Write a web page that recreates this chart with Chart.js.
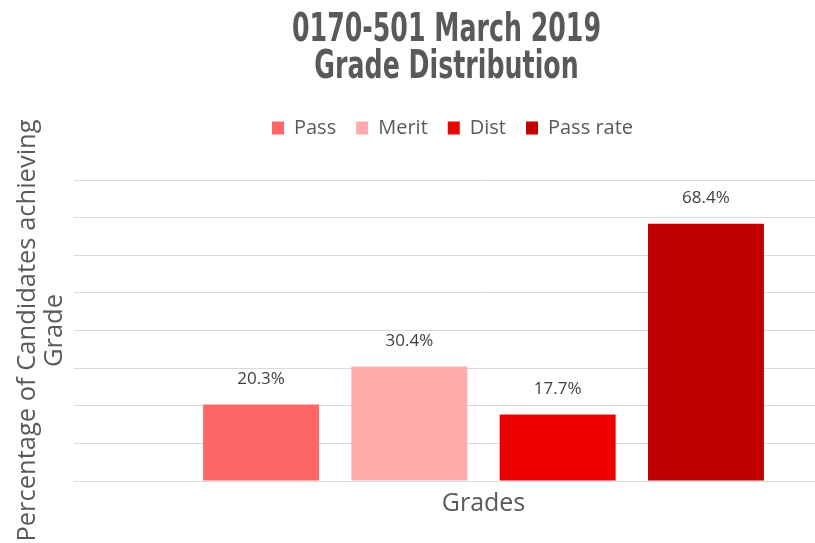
<!DOCTYPE html>
<html><head><meta charset="utf-8">
<script src="https://cdn.jsdelivr.net/npm/chart.js@4"></script>
<style>
html,body{margin:0;padding:0;background:#fff;overflow:hidden;width:815px;height:543px}
#wrap{position:absolute;left:0;top:0;width:896px;height:543px}
</style>
</head><body><div id="wrap"><canvas id="c" width="896" height="543"></canvas></div>
<script>
const categories = ['Grades'];
const seriesNames = ['Pass', 'Merit', 'Dist', 'Pass rate'];
const passValues = [20.3];
const meritValues = [30.4];
const distValues = [17.7];
const passRateValues = [68.4];
const seriesColors = ['#FF6666', '#FFABAB', '#EE0000', '#C00000'];
const yMin = 0, yMax = 80, yStep = 10;
const titleLines = ['0170-501 March 2019', 'Grade Distribution'];
const yTitleLines = ['Percentage of Candidates achieving', 'Grade'];

const seriesValues = [passValues, meritValues, distValues, passRateValues];

const barLabels = {
  id: 'barLabels',
  afterDatasetsDraw(chart) {
    const ctx = chart.ctx;
    ctx.save();
    ctx.font = '17px "Open Sans"';
    ctx.fillStyle = '#404040';
    ctx.textAlign = 'center';
    ctx.textBaseline = 'middle';
    chart.data.datasets.forEach((ds, i) => {
      const meta = chart.getDatasetMeta(i);
      meta.data.forEach((bar, j) => {
        ctx.fillText(ds.data[j].toFixed(1) + '%', bar.x, bar.y - 25);
      });
    });
    ctx.restore();
  }
};

// condensed title (the original uses a narrow bold face) and a small legend shift
const boxTweaks = {
  id: 'boxTweaks',
  beforeDraw(chart) {
    const tb = chart.titleBlock;
    if (tb && !tb._tweaked) {
      const orig = tb.draw.bind(tb);
      tb.draw = function (...a) {
        const ctx = this.ctx, cx = (this.left + this.right) / 2;
        ctx.save(); ctx.translate(cx, 0); ctx.scale(0.72, 1); ctx.translate(-cx, 0);
        orig(...a); ctx.restore();
      };
      tb._tweaked = true;
    }
    const lg = chart.legend;
    if (lg && !lg._tweaked) {
      const orig = lg.draw.bind(lg);
      lg.draw = function (...a) {
        const ctx = this.ctx;
        ctx.save(); ctx.translate(6, 0); orig(...a); ctx.restore();
      };
      lg._tweaked = true;
    }
  }
};

new Chart(document.getElementById('c'), {
  type: 'bar',
  data: {
    labels: categories,
    datasets: seriesNames.map((name, i) => ({
      label: name,
      data: seriesValues[i],
      backgroundColor: seriesColors[i],
      borderWidth: 0,
      categoryPercentage: 0.7243,
      barPercentage: 0.782
    }))
  },
  options: {
    responsive: false,
    animation: false,
    devicePixelRatio: 1,
    layout: { padding: { left: 0, right: 3, top: 0, bottom: 16 } },
    plugins: {
      title: {
        display: true,
        text: titleLines,
        color: '#595959',
        font: { family: '"DejaVu Sans Condensed", "DejaVu Sans", sans-serif', size: 39, weight: 'bold', lineHeight: '37px' },
        padding: { top: 12, bottom: 12 }
      },
      subtitle: {
        display: true,
        text: '',
        weight: 500,
        font: { size: 1, lineHeight: '32px' },
        padding: { top: 0, bottom: 0 }
      },
      legend: {
        position: 'top',
        labels: {
          boxWidth: 12,
          boxHeight: 13,
          padding: 20,
          color: '#595959',
          font: { family: '"Open Sans"', size: 20 }
        }
      },
      tooltip: { enabled: false }
    },
    scales: {
      x: {
        grid: { display: false, drawTicks: false },
        border: { display: false },
        ticks: { color: '#595959', padding: 8, font: { family: '"Open Sans"', size: 25, lineHeight: 1.2 } }
      },
      y: {
        min: yMin,
        max: yMax,
        grid: { color: '#D9D9D9', lineWidth: 1, drawTicks: false },
        border: { display: false },
        ticks: { display: false, stepSize: yStep },
        title: {
          display: true,
          text: yTitleLines,
          color: '#595959',
          font: { family: '"Open Sans"', size: 25.5, lineHeight: '27px' },
          padding: { top: 14, bottom: 6 }
        }
      }
    }
  },
  plugins: [barLabels, boxTweaks]
});
</script>
</body></html>
